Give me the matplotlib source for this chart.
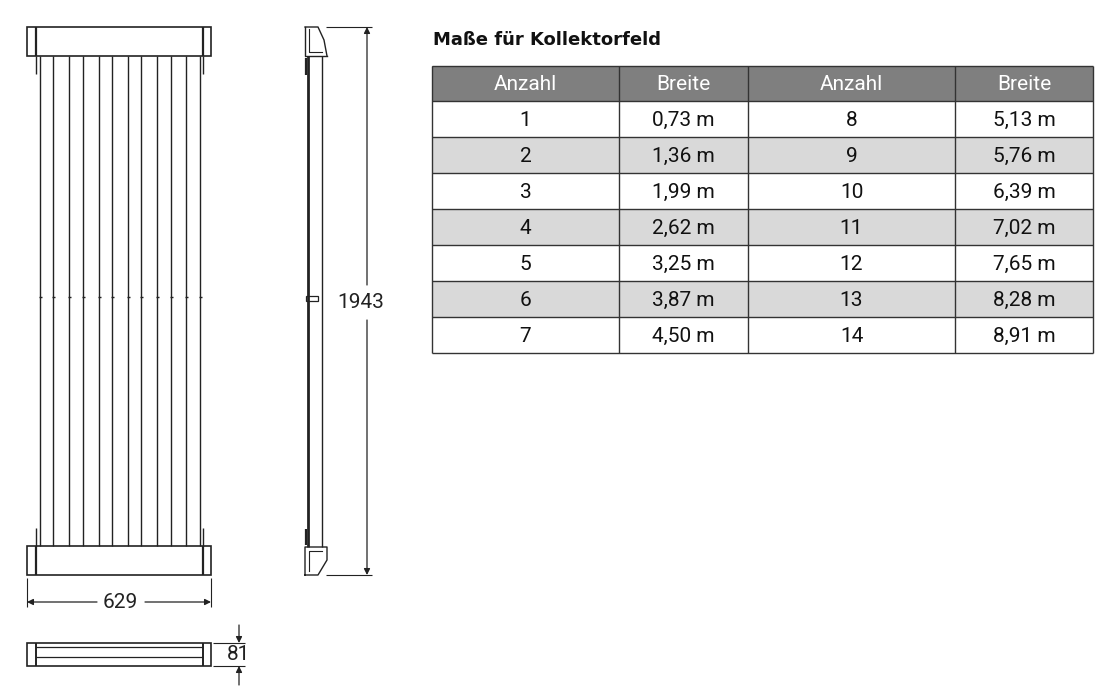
import matplotlib.pyplot as plt
from matplotlib.patches import Rectangle

anzahl_left = [1, 2, 3, 4, 5, 6, 7]
breite_left = ["0,73 m", "1,36 m", "1,99 m", "2,62 m", "3,25 m", "3,87 m", "4,50 m"]
anzahl_right = [8, 9, 10, 11, 12, 13, 14]
breite_right = ["5,13 m", "5,76 m", "6,39 m", "7,02 m", "7,65 m", "8,28 m", "8,91 m"]
headers = ["Anzahl", "Breite", "Anzahl", "Breite"]
tube_x = [40, 53, 69, 83, 99, 112, 128, 141, 157, 171, 186, 200]
dim_width, dim_height, dim_depth = "629", "1943", "81"

FONT = ["Liberation Sans Narrow", "Roboto", "DejaVu Sans"]
LC = "#222222"

fig = plt.figure(figsize=(11.08, 6.86), dpi=100)
ax = fig.add_axes([0, 0, 1, 1])
ax.set_xlim(0, 1108)
ax.set_ylim(686, 0)
ax.axis("off")


def line(x, y, lw=1.0, color=LC):
    ax.plot(x, y, color=color, lw=lw, solid_capstyle="butt")


def box(x0, y0, x1, y1, lw=1.2, fc="none"):
    ax.add_patch(Rectangle((x0, y0), x1 - x0, y1 - y0, fill=fc != "none",
                           facecolor=fc, edgecolor=LC, lw=lw))


def arrow(x0, y0, x1, y1):
    ax.annotate("", xy=(x1, y1), xytext=(x0, y0),
                arrowprops=dict(arrowstyle="-|>", color=LC, lw=0.9,
                                mutation_scale=9, shrinkA=0, shrinkB=0))


# front view
for y0, y1 in [(27, 56), (546, 575)]:
    box(27, y0, 211, y1)
    line([36, 36], [y0, y1], 1.6)
    line([203, 203], [y0, y1], 1.6)
for x in tube_x:
    line([x, x], [56, 546], 1.0)
    line([x - 1.5, x + 1.5], [297, 297], 1.0)
for x in (36, 203):
    line([x, x], [56, 74], 1.0)
    line([x, x], [528, 546], 1.0)
line([27, 27], [578, 607], 0.8)
line([211, 211], [578, 607], 0.8)
arrow(97, 602, 27, 602)
arrow(145, 602, 211, 602)
ax.text(120, 602, dim_width, ha="center", va="center", fontsize=15, family=FONT, color=LC)

# bottom view
box(27, 643, 211, 666)
line([36, 203], [647, 647], 0.9)
line([36, 203], [657, 657], 0.9)
line([36, 36], [643, 666], 1.4)
line([203, 203], [643, 666], 1.4)
line([213, 245], [643, 643], 0.8)
line([213, 245], [666, 666], 0.8)
arrow(239, 625, 239, 643)
arrow(239, 685, 239, 666)
ax.text(239, 655, dim_depth, ha="center", va="center", fontsize=15, family=FONT, color=LC)

# side view
ax.plot([305, 305, 327], [27, 56, 56], color=LC, lw=1.0)
ax.plot([305, 318, 324, 327, 327], [27, 27, 40, 56, 56], color=LC, lw=1.0)
ax.plot([309, 309, 322], [29, 52, 52], color=LC, lw=0.8)
ax.plot([305, 305, 327, 327, 318, 305], [575, 547, 547, 560, 575, 575], color=LC, lw=1.0)
ax.plot([309, 309, 322], [571, 551, 551], color=LC, lw=0.8)
line([308, 308], [56, 547], 2.0)
line([322, 322], [56, 547], 1.0)
line([306, 306], [58, 75], 1.6)
line([306, 306], [529, 545], 1.6)
box(306, 296, 318, 301, lw=0.9)
line([326, 372], [27, 27], 0.8)
line([326, 372], [575, 575], 0.8)
arrow(367, 285, 367, 27)
arrow(367, 320, 367, 575)
ax.text(361, 302, dim_height, ha="center", va="center", fontsize=15, family=FONT, color=LC)

# table
ax.text(433, 40, "Maße für Kollektorfeld", ha="left", va="center", fontsize=13,
        fontweight="bold", family=["DejaVu Sans"], color="#111111")
cols = [432, 619, 748, 955, 1093]
top, hh, rh = 66, 35, 36
ax.add_patch(Rectangle((cols[0], top), cols[-1] - cols[0], hh, facecolor="#7f7f7f",
                       edgecolor="none"))
for i, h in enumerate(headers):
    ax.text((cols[i] + cols[i + 1]) / 2, top + hh / 2 + 1, h, ha="center", va="center",
            fontsize=15, family=FONT, color="white")
rows = list(zip(anzahl_left, breite_left, anzahl_right, breite_right))
for r, vals in enumerate(rows):
    y0 = top + hh + r * rh
    if r % 2 == 1:
        ax.add_patch(Rectangle((cols[0], y0), cols[-1] - cols[0], rh,
                               facecolor="#d9d9d9", edgecolor="none"))
    for i, v in enumerate(vals):
        ax.text((cols[i] + cols[i + 1]) / 2, y0 + rh / 2 + 1, str(v), ha="center",
                va="center", fontsize=15, family=FONT, color="#111111")
bottom = top + hh + len(rows) * rh
for x in cols:
    line([x, x], [top, bottom], 1.0, "#333333")
for k in range(len(rows) + 2):
    y = top if k == 0 else top + hh + (k - 1) * rh
    line([cols[0], cols[-1]], [y, y], 1.0, "#333333")

fig.savefig("out.png", dpi=100)
